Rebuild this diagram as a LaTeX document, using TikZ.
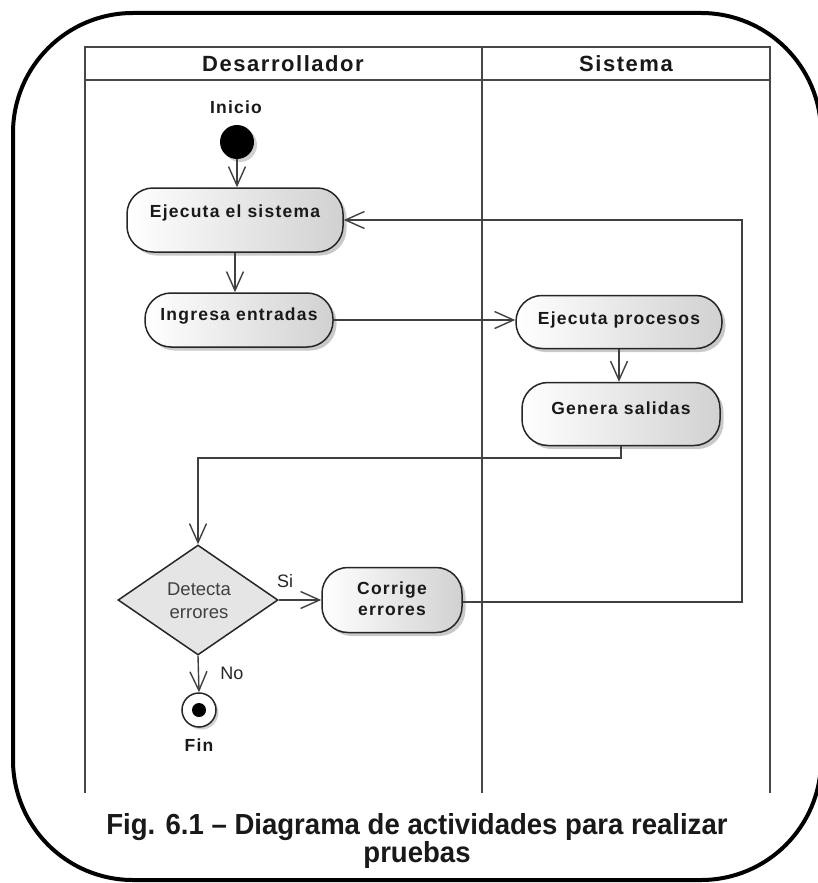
\documentclass[tikz,border=0pt]{standalone}
\usepackage{fontspec}
\usepackage{graphicx}
\setmainfont{Liberation Sans}
\newfontfamily\lsp{Liberation Sans}[LetterSpace=7]
\usetikzlibrary{arrows.meta,shapes.geometric,shadows}
\begin{document}
\begin{tikzpicture}[x=1pt,y=-1pt,
  lane/.style={draw=black!72,line width=1.7pt},
  conn/.style={draw=black!75,line width=1.4pt,-{Straight Barb[length=19pt,width=17pt,line width=1.4pt]}},
  act/.style={rectangle,draw=black!85,line width=1.5pt,rounded corners=26pt,
    left color=white,right color=black!18,inner sep=0pt,
    drop shadow={shadow xshift=3.5pt,shadow yshift=-3.5pt,opacity=0.35,fill=black!60}},
  btxt/.style={font=\lsp\bfseries\fontsize{17.5}{21}\selectfont,text=black!90,inner sep=0pt},
  htxt/.style={font=\lsp\bfseries\fontsize{22}{26}\selectfont,text=black!90,inner sep=0pt},
  rtxt/.style={font=\fontsize{18.5}{23}\selectfont,text=black!75,inner sep=0pt,align=center},
  ltxt/.style={font=\fontsize{18}{22}\selectfont,text=black!85,inner sep=0pt},
  ctxt/.style={font=\bfseries\fontsize{29}{28}\selectfont,text=black!90,inner sep=0pt,anchor=base},
]
\useasboundingbox (0,0) rectangle (818,883);
\fill[white] (0,0) rectangle (818,883);
% outer frame
\draw[line width=4pt,rounded corners=120pt] (13,13) rectangle (821,880);
% swimlanes
\draw[lane] (85,793) -- (85,47) -- (770,47) -- (770,793);
\draw[lane] (85,80) -- (770,80);
\draw[lane] (482,47) -- (482,793);
\node[htxt] (hd) at (283,64) {Desarrollador};
\node[htxt] (hs) at (626,64) {Sistema};
% start
\node[btxt] (tinicio) at (236,107) {Inicio};
\node[circle,fill=black,minimum size=34pt,inner sep=0pt,
  drop shadow={shadow xshift=3pt,shadow yshift=-3pt,opacity=0.3,fill=black!60}] (start) at (237,142) {};
% activities
\node[act,minimum width=216pt,minimum height=64pt] (e1) at (235,220) {};
\node[btxt] (te1) at (235,213) {Ejecuta el sistema};
\node[act,minimum width=188pt,minimum height=54pt] (e2) at (239,320) {};
\node[btxt] (te2) at (239,316) {Ingresa entradas};
\node[act,minimum width=206pt,minimum height=53pt] (p1) at (619,322) {};
\node[btxt] (tp1) at (619,320) {Ejecuta procesos};
\node[act,minimum width=198pt,minimum height=63pt] (p2) at (621,414) {};
\node[btxt] (tp2) at (621,408) {Genera salidas};
% decision
\node[diamond,draw=black!85,line width=1.5pt,fill=black!10,minimum width=160pt,minimum height=110pt,inner sep=0pt] (dec) at (198,600) {};
\node[rtxt] (tdec) at (199,601) {Detecta\\errores};
\node[act,minimum width=140pt,minimum height=65pt] (c1) at (392,600) {};
\node[btxt,align=center] (tc1) at (392,599) {Corrige\\errores};
% end
\node[circle,draw=black!85,line width=1.5pt,fill=white,minimum size=34pt,inner sep=0pt,
  drop shadow={shadow xshift=2.5pt,shadow yshift=-2.5pt,opacity=0.3,fill=black!60}] (fin) at (199,710) {};
\node[circle,fill=black,minimum size=14pt,inner sep=0pt] (findot) at (fin.center) {};
\node[btxt] (tfin) at (199,745) {Fin};
\node[ltxt] (tno) at (232,673) {No};
\node[ltxt] (tsi) at (285,581) {Si};
% connectors
\draw[conn] (start.south) -- (start.south |- e1.north);
\draw[conn] (e1.south) -- (e1.south |- e2.north);
\draw[conn] (e2.east) -- (e2.east -| p1.west);
\draw[conn] (p1.south) -- (p1.south |- p2.north);
\coordinate (bend) at (621,458);
\draw[conn] (p2.south) -- (bend) -| (dec.north);
\draw[conn] (dec.east) -- (c1.west);
\coordinate (loopc) at (742,602);
\draw[conn] (c1.east |- loopc) -- (loopc) |- (e1.east);
\draw[conn] (dec.south) -- (fin.north);
% caption
\node[ctxt] (cap1) at (417,834) {\scalebox{0.95}[1]{Fig. 6.1 – Diagrama de actividades para realizar}};
\node[ctxt] (cap2) at (417,862) {\scalebox{0.95}[1]{pruebas}};
\end{tikzpicture}
\end{document}
